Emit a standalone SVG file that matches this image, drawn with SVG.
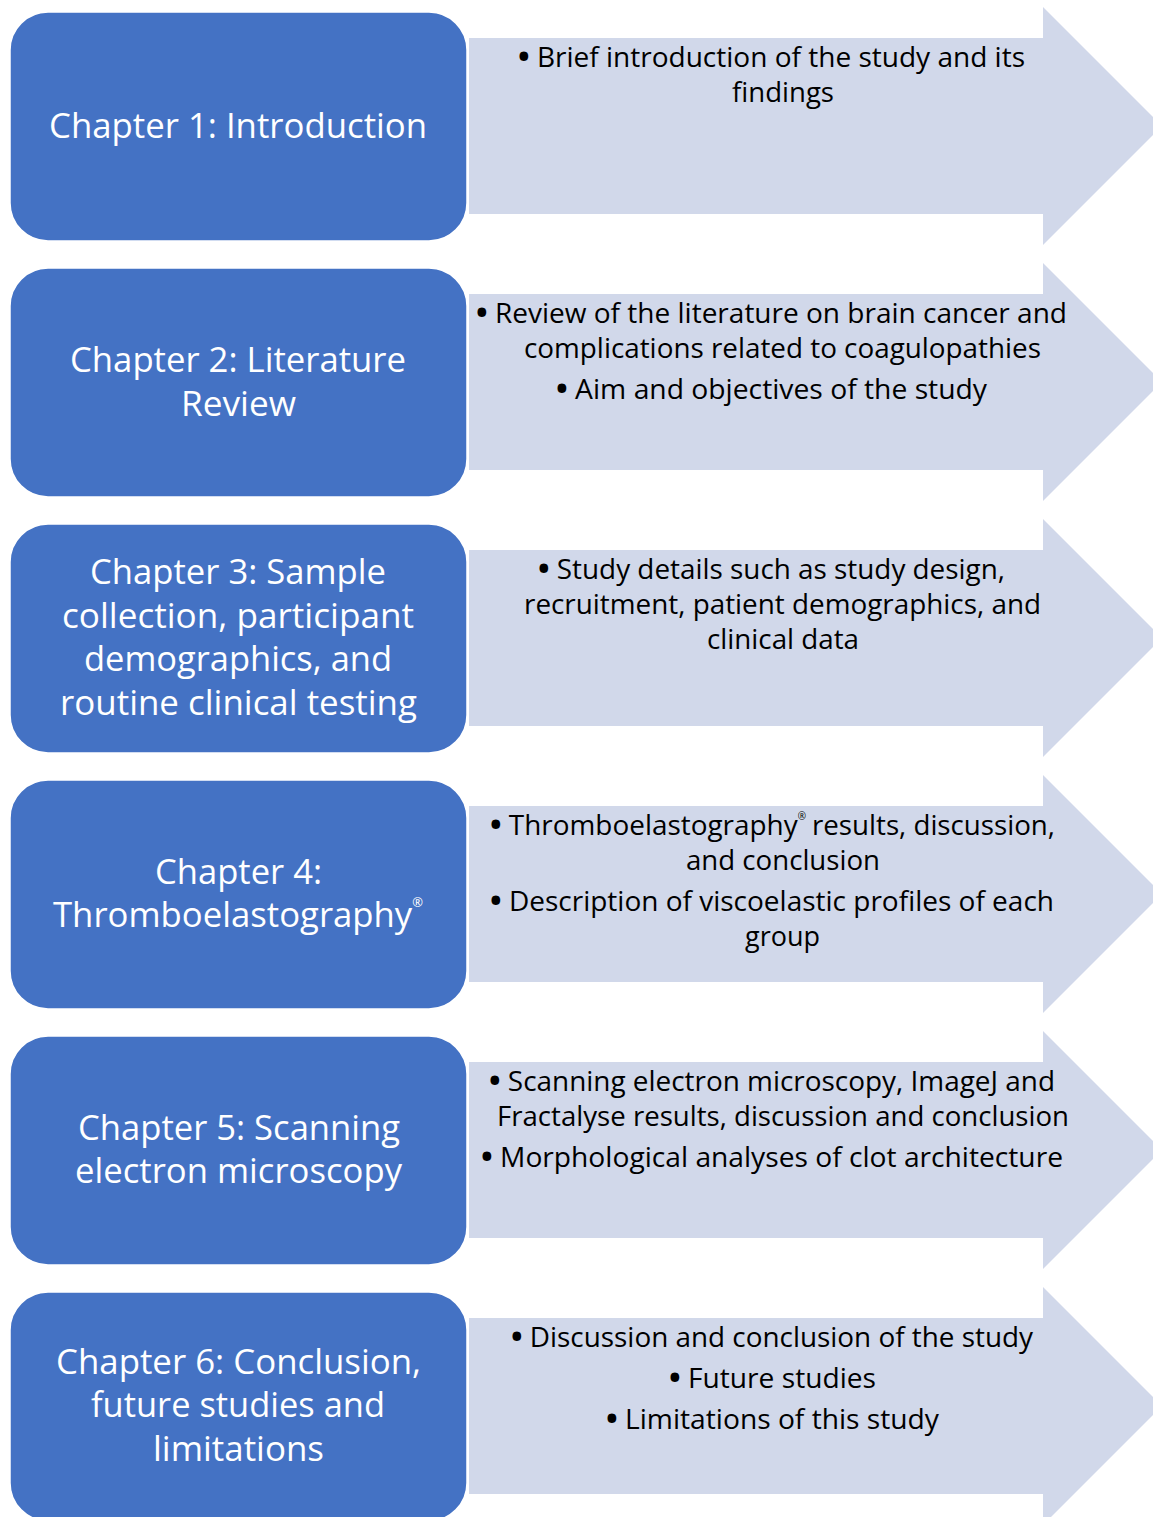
<svg xmlns="http://www.w3.org/2000/svg" width="1153" height="1517" viewBox="0 0 1153 1517">
<defs>
<style>
.box{fill:#4472C4;stroke:#ffffff;stroke-width:1.5}
.arr{fill:#D1D8EA}
.lt{font-family:"Open Sans","Noto Sans",sans-serif;font-size:35px;fill:#ffffff}
.rt{font-family:"Open Sans","Noto Sans",sans-serif;font-size:28px;fill:#000000}
.b{font-size:31px;font-weight:bold}
</style>
<path id="arrowShape" d="M469 38 H1043 V7 L1162 126 L1043 245 V214 H469 Z"/>
</defs>
<g id="connectors">
<use href="#arrowShape" class="arr"/>
<use href="#arrowShape" class="arr" y="256"/>
<use href="#arrowShape" class="arr" y="512"/>
<use href="#arrowShape" class="arr" y="768"/>
<use href="#arrowShape" class="arr" y="1024"/>
<use href="#arrowShape" class="arr" y="1280"/>
</g>
<g id="ch1">
<rect class="box" x="10" y="12" width="457" height="229" rx="38"/>
<text class="lt" x="49" y="138" textLength="378" lengthAdjust="spacingAndGlyphs">Chapter 1: Introduction</text>
<text class="rt" x="518" y="67" textLength="507" lengthAdjust="spacingAndGlyphs"><tspan class="b">•</tspan> Brief introduction of the study and its</text>
<text class="rt" x="732" y="102" textLength="102" lengthAdjust="spacingAndGlyphs">findings</text>
</g>
<g id="ch2">
<rect class="box" x="10" y="268" width="457" height="229" rx="38"/>
<text class="lt" x="70" y="372" textLength="336" lengthAdjust="spacingAndGlyphs">Chapter 2: Literature</text>
<text class="lt" x="181" y="416" textLength="115" lengthAdjust="spacingAndGlyphs">Review</text>
<text class="rt" x="476" y="323" textLength="591" lengthAdjust="spacingAndGlyphs"><tspan class="b">•</tspan> Review of the literature on brain cancer and</text>
<text class="rt" x="524" y="358" textLength="517" lengthAdjust="spacingAndGlyphs">complications related to coagulopathies</text>
<text class="rt" x="556" y="399" textLength="431" lengthAdjust="spacingAndGlyphs"><tspan class="b">•</tspan> Aim and objectives of the study</text>
</g>
<g id="ch3">
<rect class="box" x="10" y="524" width="457" height="229" rx="38"/>
<text class="lt" x="90" y="584" textLength="296" lengthAdjust="spacingAndGlyphs">Chapter 3: Sample</text>
<text class="lt" x="62" y="628" textLength="352" lengthAdjust="spacingAndGlyphs">collection, participant</text>
<text class="lt" x="84" y="671" textLength="308" lengthAdjust="spacingAndGlyphs">demographics, and</text>
<text class="lt" x="60" y="715" textLength="357" lengthAdjust="spacingAndGlyphs">routine clinical testing</text>
<text class="rt" x="538" y="579" textLength="467" lengthAdjust="spacingAndGlyphs"><tspan class="b">•</tspan> Study details such as study design,</text>
<text class="rt" x="524" y="614" textLength="517" lengthAdjust="spacingAndGlyphs">recruitment, patient demographics, and</text>
<text class="rt" x="707" y="649" textLength="152" lengthAdjust="spacingAndGlyphs">clinical data</text>
</g>
<g id="ch4">
<rect class="box" x="10" y="780" width="457" height="229" rx="38"/>
<text class="lt" x="155" y="884" textLength="167" lengthAdjust="spacingAndGlyphs">Chapter 4:</text>
<text class="lt" x="53" y="927" textLength="370" lengthAdjust="spacingAndGlyphs">Thromboelastography<tspan font-size="13" dy="-20">®</tspan></text>
<text class="rt" x="490" y="835" textLength="316" lengthAdjust="spacingAndGlyphs"><tspan class="b">•</tspan> Thromboelastography<tspan font-size="10" dy="-15">®</tspan></text>
<text class="rt" x="812" y="835" textLength="243" lengthAdjust="spacingAndGlyphs">results, discussion,</text>
<text class="rt" x="686" y="870" textLength="194" lengthAdjust="spacingAndGlyphs">and conclusion</text>
<text class="rt" x="490" y="911" textLength="564" lengthAdjust="spacingAndGlyphs"><tspan class="b">•</tspan> Description of viscoelastic profiles of each</text>
<text class="rt" x="745" y="946" textLength="75" lengthAdjust="spacingAndGlyphs">group</text>
</g>
<g id="ch5">
<rect class="box" x="10" y="1036" width="457" height="229" rx="38"/>
<text class="lt" x="78" y="1140" textLength="322" lengthAdjust="spacingAndGlyphs">Chapter 5: Scanning</text>
<text class="lt" x="75" y="1183" textLength="327" lengthAdjust="spacingAndGlyphs">electron microscopy</text>
<text class="rt" x="489" y="1091" textLength="566" lengthAdjust="spacingAndGlyphs"><tspan class="b">•</tspan> Scanning electron microscopy, ImageJ and</text>
<text class="rt" x="497" y="1126" textLength="572" lengthAdjust="spacingAndGlyphs">Fractalyse results, discussion and conclusion</text>
<text class="rt" x="481" y="1167" textLength="582" lengthAdjust="spacingAndGlyphs"><tspan class="b">•</tspan> Morphological analyses of clot architecture</text>
</g>
<g id="ch6">
<rect class="box" x="10" y="1292" width="457" height="229" rx="38"/>
<text class="lt" x="56" y="1374" textLength="365" lengthAdjust="spacingAndGlyphs">Chapter 6: Conclusion,</text>
<text class="lt" x="91" y="1417" textLength="294" lengthAdjust="spacingAndGlyphs">future studies and</text>
<text class="lt" x="153" y="1461" textLength="171" lengthAdjust="spacingAndGlyphs">limitations</text>
<text class="rt" x="511" y="1347" textLength="522" lengthAdjust="spacingAndGlyphs"><tspan class="b">•</tspan> Discussion and conclusion of the study</text>
<text class="rt" x="669" y="1388" textLength="207" lengthAdjust="spacingAndGlyphs"><tspan class="b">•</tspan> Future studies</text>
<text class="rt" x="606" y="1429" textLength="333" lengthAdjust="spacingAndGlyphs"><tspan class="b">•</tspan> Limitations of this study</text>
</g>
</svg>
